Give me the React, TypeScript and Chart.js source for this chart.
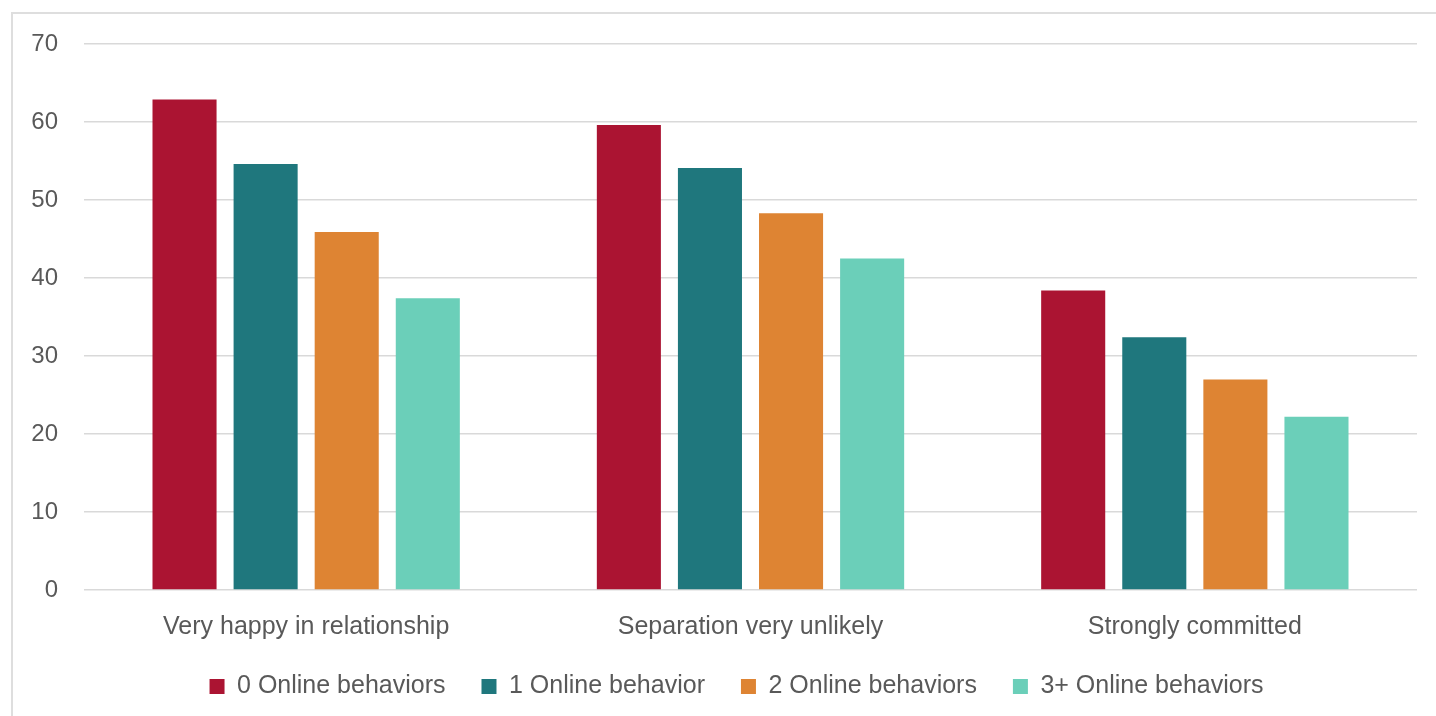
import React, { useEffect, useRef } from "react";
import { Chart, registerables } from "chart.js";

Chart.register(...registerables);

const categories = ["Very happy in relationship", "Separation very unlikely", "Strongly committed"];
const seriesLabels = ["0 Online behaviors", "1 Online behavior", "2 Online behaviors", "3+ Online behaviors"];
const zeroBehaviors = [62.9, 59.6, 38.4];
const oneBehavior = [54.6, 54.1, 32.4];
const twoBehaviors = [45.9, 48.3, 27.0];
const threePlusBehaviors = [37.4, 42.5, 22.2];
const seriesColors = ["#AB1432", "#1F777D", "#DE8433", "#6BCFB9"];
const yTicks = [0, 10, 20, 30, 40, 50, 60, 70];

const FONT = "'Liberation Sans', Arial, sans-serif";
const TEXT = "#595959";
const PAD_LEFT = 56;

export default function App() {
  const ref = useRef<HTMLCanvasElement | null>(null);

  useEffect(() => {
    if (!ref.current) return;
    const values = [zeroBehaviors, oneBehavior, twoBehaviors, threePlusBehaviors];
    const noClip = (s: any) => {
      s._computeLabelArea = () => undefined;
    };
    const chart = new Chart(ref.current, {
      type: "bar",
      data: {
        labels: categories,
        datasets: seriesLabels.map((label, i) => ({
          label,
          data: values[i],
          backgroundColor: seriesColors[i],
          borderWidth: 0,
          categoryPercentage: 0.73,
          barPercentage: 0.79,
        })),
      },
      options: {
        animation: false,
        responsive: false,
        layout: { padding: { left: PAD_LEFT, right: 19, top: 44, bottom: 7 } },
        plugins: {
          tooltip: { enabled: false },
          legend: {
            position: "bottom",
            labels: {
              boxWidth: 15,
              boxHeight: 15,
              padding: 36,
              color: TEXT,
              font: { family: FONT, size: 25 },
            },
          },
        },
        scales: {
          x: {
            grid: { display: false, drawTicks: false },
            border: { display: false },
            ticks: { color: TEXT, font: { family: FONT, size: 25 }, padding: 22 },
            afterFit: (s: any) => {
              s.height = 48;
              noClip(s);
            },
          },
          y: {
            min: 0,
            max: 70,
            grid: { color: "#d9d9d9", lineWidth: 1.5, drawTicks: false },
            border: { display: false },
            afterBuildTicks: (s: any) => {
              s.ticks = yTicks.map((v) => ({ value: v }));
            },
            ticks: { color: TEXT, font: { family: FONT, size: 24 }, padding: 26 },
            afterFit: (s: any) => {
              s.width = 84 - PAD_LEFT;
              noClip(s);
            },
          },
        },
      },
    });
    return () => chart.destroy();
  }, []);

  return (
    <div style={{ position: "fixed", left: 0, top: 0, width: 1436, height: 716, background: "#fff", overflow: "hidden" }}>
      <div
        style={{
          position: "absolute",
          left: 11,
          top: 12,
          right: -10,
          bottom: -10,
          borderLeft: "2px solid #dedede",
          borderTop: "2px solid #dedede",
        }}
      />
      <canvas ref={ref} width={1436} height={716} style={{ position: "absolute", left: 0, top: 0 }} />
    </div>
  );
}
